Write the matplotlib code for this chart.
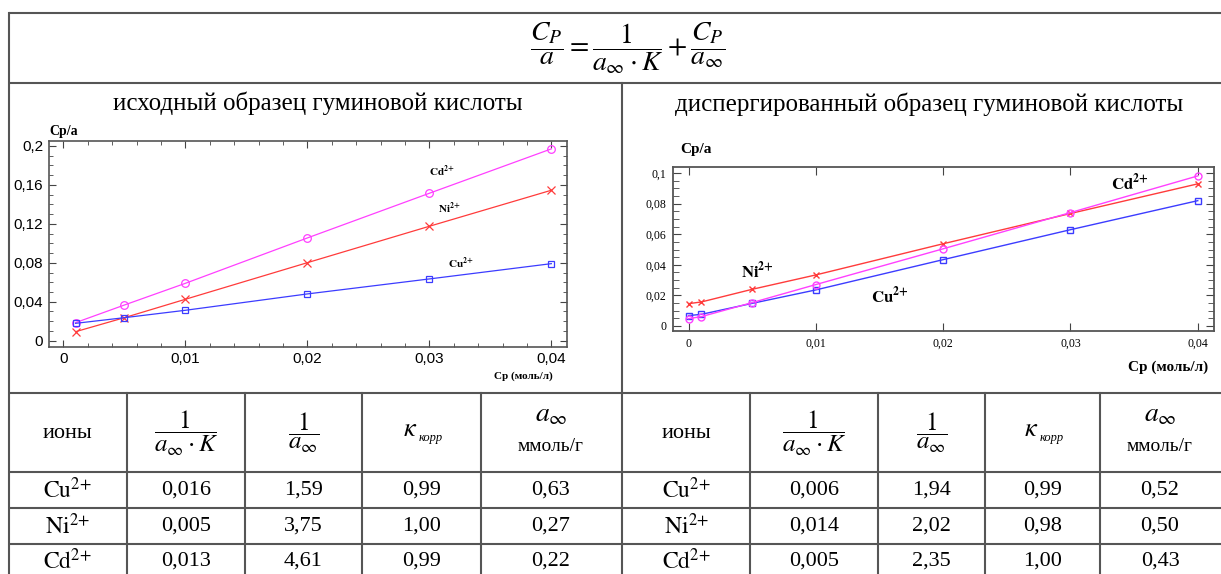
import matplotlib
matplotlib.use('Agg')
import matplotlib.pyplot as plt
from matplotlib.ticker import FuncFormatter, MultipleLocator

plt.rcParams['mathtext.fontset'] = 'stix'

# --- data: left chart (исходный образец) ---
cp_left = [0.001, 0.005, 0.01, 0.02, 0.03, 0.04]
cu_left = [0.0178, 0.0236, 0.0312, 0.0480, 0.0634, 0.0791]
ni_left = [0.0092, 0.0236, 0.0425, 0.0801, 0.1175, 0.1545]
cd_left = [0.0185, 0.0366, 0.0589, 0.1055, 0.1514, 0.1970]

# --- data: right chart (диспергированный образец) ---
cp_right = [0, 0.001, 0.005, 0.01, 0.02, 0.03, 0.04]
cu_right = [0.0068, 0.0076, 0.0148, 0.0236, 0.0434, 0.0630, 0.0820]
ni_right = [0.0146, 0.0157, 0.0240, 0.0334, 0.0538, 0.0736, 0.0930]
cd_right = [0.0048, 0.0061, 0.0153, 0.0271, 0.0505, 0.0742, 0.0982]

# --- table values ---
ions = ['Cu', 'Ni', 'Cd']
left_inv_aK = ['0,016', '0,005', '0,013']
left_inv_a = ['1,59', '3,75', '4,61']
left_k = ['0,99', '1,00', '0,99']
left_a = ['0,63', '0,27', '0,22']
right_inv_aK = ['0,006', '0,014', '0,005']
right_inv_a = ['1,94', '2,02', '2,35']
right_k = ['0,99', '0,98', '1,00']
right_a = ['0,52', '0,50', '0,43']

W, H = 1221, 574
fig = plt.figure(figsize=(W / 100, H / 100), dpi=100)

# overlay in pixel coords for the table frame and texts
ax0 = fig.add_axes([0, 0, 1, 1])
ax0.set_xlim(0, W)
ax0.set_ylim(H, 0)
ax0.axis('off')

lc = '#555555'
lw = 1.5
for y in [12.5, 83, 393, 472, 508, 544]:
    ax0.plot([9, W], [y, y], color=lc, lw=lw, solid_capstyle='butt')
ax0.plot([9, 9], [12.5, H], color=lc, lw=lw)
ax0.plot([622, 622], [83, H], color=lc, lw=lw)
for x in [127, 245, 362, 481, 750, 878, 985, 1100]:
    ax0.plot([x, x], [393, H], color=lc, lw=lw)

serif = 'Liberation Serif'
ax0.text(628, 48, r'$\dfrac{C_P}{a}=\dfrac{1}{a_\infty\cdot K}+\dfrac{C_P}{a_\infty}$',
         fontsize=20, ha='center', va='center')
ax0.text(318, 103, 'исходный образец гуминовой кислоты', family=serif,
         fontsize=18, ha='center', va='center')
ax0.text(929, 104, 'диспергированный образец гуминовой кислоты', family=serif,
         fontsize=18, ha='center', va='center')

# table header + rows
for cols, aK, ia, kk, aa in [([67.5, 186, 303.5, 421.5, 551], left_inv_aK, left_inv_a, left_k, left_a),
                             ([686, 814, 931.5, 1042.5, 1160], right_inv_aK, right_inv_a, right_k, right_a)]:
    ax0.text(cols[0], 434, 'ионы', family=serif, fontsize=16, ha='center', va='center')
    ax0.text(cols[1], 433, r'$\dfrac{1}{a_\infty\cdot K}$', fontsize=18, ha='center', va='center')
    ax0.text(cols[2], 433, r'$\dfrac{1}{a_\infty}$', fontsize=18, ha='center', va='center')
    ax0.text(cols[3] - 4, 436, r'$\kappa$', fontsize=19, ha='right', va='baseline')
    ax0.text(cols[3] - 3, 441, 'корр', family=serif, style='italic', fontsize=9,
             ha='left', va='baseline')
    ax0.text(cols[4], 421, r'$a_{\infty}$', fontsize=20, ha='center', va='baseline')
    ax0.text(cols[4], 451, 'ммоль/г', family=serif, fontsize=14, ha='center', va='baseline')
    for i, yy in enumerate([490, 526, 561]):
        ax0.text(cols[0], yy, r'$\mathrm{' + ions[i] + r'}^{2{+}}$', fontsize=17,
                 ha='center', va='center')
        ax0.text(cols[1], yy, aK[i], family=serif, fontsize=16, ha='center', va='center')
        ax0.text(cols[2], yy, ia[i], family=serif, fontsize=16, ha='center', va='center')
        ax0.text(cols[3], yy, kk[i], family=serif, fontsize=16, ha='center', va='center')
        ax0.text(cols[4], yy, aa[i], family=serif, fontsize=16, ha='center', va='center')

comma = FuncFormatter(lambda v, _: f'{v:.3g}'.replace('.', ','))
magenta, red, blue = '#ff40ff', '#ff3b3b', '#3c3cff'

# --- left chart ---
axL = fig.add_axes([48.7 / W, 1 - 346.7 / H, 518 / W, 206 / H])
axL.plot(cp_left, cd_left, color=magenta, lw=0.9, marker='o', ms=5.5, mfc='none', mew=0.9)
axL.plot(cp_left, ni_left, color=red, lw=0.9, marker='x', ms=5.5, mew=0.9)
axL.plot(cp_left, cu_left, color=blue, lw=0.9, marker='s', ms=5, mfc='none', mew=0.9)
axL.set_xlim(-0.0012, 0.04126)
axL.set_ylim(-0.0062, 0.2054)
axL.xaxis.set_major_locator(MultipleLocator(0.01))
axL.xaxis.set_minor_locator(MultipleLocator(0.002))
axL.yaxis.set_major_locator(MultipleLocator(0.04))
axL.yaxis.set_minor_locator(MultipleLocator(0.01))
axL.xaxis.set_major_formatter(comma)
axL.yaxis.set_major_formatter(comma)
axL.tick_params(which='both', direction='in', top=True, right=True, color='#444444')
axL.tick_params(which='major', length=5, labelsize=11, pad=4)
axL.tick_params(which='minor', length=3)
for lab in axL.get_xticklabels() + axL.get_yticklabels():
    lab.set_family('Liberation Sans')
for s in axL.spines.values():
    s.set_color('#555555')
    s.set_linewidth(1.2)
axL.text(0.0300, 0.174, r'$\mathbf{Cd}^{\mathbf{2{+}}}$', fontsize=8, va='center')
axL.text(0.0307, 0.136, r'$\mathbf{Ni}^{\mathbf{2{+}}}$', fontsize=8, va='center')
axL.text(0.0315, 0.079, r'$\mathbf{Cu}^{\mathbf{2{+}}}$', fontsize=8, va='center')
ax0.text(49, 131, 'Cp/a', family=serif, weight='bold', fontsize=10, ha='left', va='center')
ax0.text(553, 376, 'Cp (моль/л)', family=serif, weight='bold', fontsize=8, ha='right', va='center')

# --- right chart ---
axR = fig.add_axes([673.3 / W, 1 - 330.7 / H, 540.4 / W, 163.2 / H])
axR.plot(cp_right, ni_right, color=red, lw=1.0, marker='x', ms=5, mew=1.0)
axR.plot(cp_right, cu_right, color=blue, lw=1.0, marker='s', ms=4.5, mfc='none', mew=1.0)
axR.plot(cp_right, cd_right, color=magenta, lw=1.0, marker='o', ms=5, mfc='none', mew=1.0)
axR.set_xlim(-0.0012, 0.04125)
axR.set_ylim(-0.0031, 0.1037)
axR.xaxis.set_major_locator(MultipleLocator(0.01))
axR.yaxis.set_major_locator(MultipleLocator(0.02))
axR.yaxis.set_minor_locator(MultipleLocator(0.005))
axR.xaxis.set_major_formatter(comma)
axR.yaxis.set_major_formatter(comma)
axR.tick_params(which='both', direction='in', top=True, right=True, color='#444444')
axR.tick_params(which='major', length=6, labelsize=8.5, pad=5)
axR.tick_params(which='minor', length=4)
for lab in axR.get_xticklabels() + axR.get_yticklabels():
    lab.set_family(serif)
for s in axR.spines.values():
    s.set_color('#555555')
    s.set_linewidth(1.3)
axR.text(0.0041, 0.0356, r'$\mathbf{Ni}^{\mathbf{2{+}}}$', fontsize=12, va='center')
axR.text(0.0143, 0.0197, r'$\mathbf{Cu}^{\mathbf{2{+}}}$', fontsize=12, va='center')
axR.text(0.0332, 0.0934, r'$\mathbf{Cd}^{\mathbf{2{+}}}$', fontsize=12, va='center')
ax0.text(680, 150, 'Cp/a', family=serif, weight='bold', fontsize=11, ha='left', va='center')
ax0.text(1208, 367, 'Cp (моль/л)', family=serif, weight='bold', fontsize=11, ha='right', va='center')

fig.savefig('out.png', dpi=100)
